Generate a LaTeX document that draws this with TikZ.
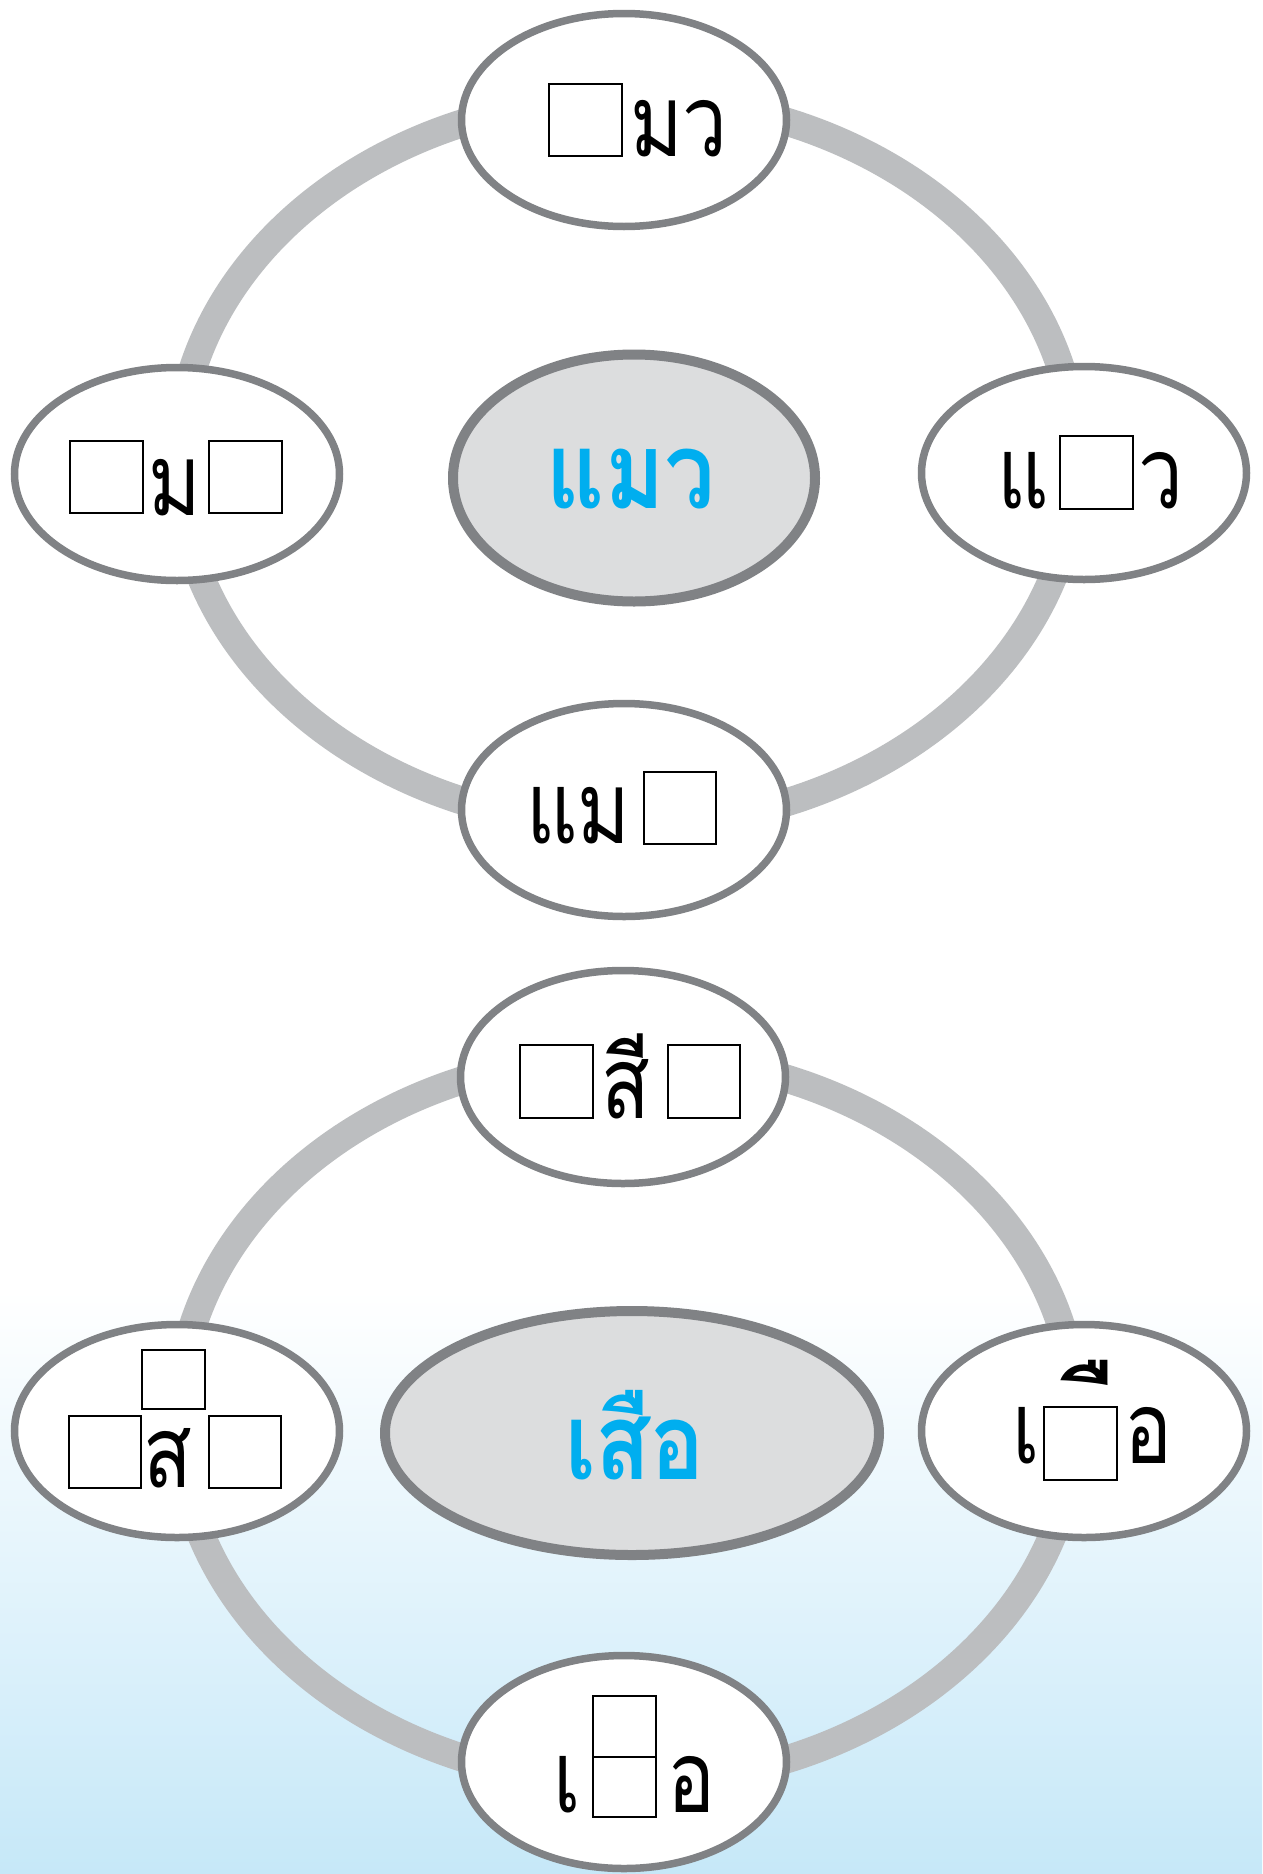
\documentclass[tikz,border=0pt]{standalone}
\usepackage{fontspec}
\newfontfamily\thai[Script=Thai, FakeStretch=0.8]{Loma}
\newfontfamily\thaimark[Script=Thai]{Loma}
\newfontfamily\thaibold[Script=Thai, FakeStretch=0.85]{Loma}
\usetikzlibrary{shapes.geometric}
\definecolor{nodegray}{HTML}{808285}
\definecolor{ringgray}{HTML}{BCBEC0}
\definecolor{centerfill}{HTML}{DCDDDE}
\definecolor{thaiblue}{HTML}{00AEEF}
\definecolor{skyblue}{HTML}{C6E8F8}
\begin{document}
\begin{tikzpicture}[x=1pt,y=-1pt,
  ring/.style={draw=ringgray, line width=28pt},
  outer/.style={ellipse, draw=nodegray, fill=white, line width=7.5pt, minimum width=325pt, minimum height=213pt, inner sep=0pt},
  hub/.style={ellipse, draw=nodegray, fill=centerfill, line width=10pt, inner sep=0pt},
  blank/.style={draw=black, line width=2.3pt},
  word/.style={font=\thai\fontsize{100}{100}\selectfont, text=black, inner sep=0pt, anchor=base west},
  markword/.style={font=\thaimark\fontsize{105}{105}\selectfont, text=black, inner sep=0pt, anchor=base east},
  hubword/.style={font=\thaibold\bfseries\fontsize{106}{106}\selectfont, text=thaiblue, inner sep=0pt, anchor=base},
]
\useasboundingbox (0,0) rectangle (1262,1874);
\fill[white] (0,0) rectangle (1262,1874);
\shade[top color=white, bottom color=skyblue] (0,1290) rectangle (1262,1874);

% ---------- top cluster ----------
\draw[ring] (627,462) ellipse [x radius=449pt, y radius=364pt];
\node[outer] (n1t) at (624,120) {};
\node[outer] (n1l) at (177,474) {};
\node[outer] (n1r) at (1084,473) {};
\node[outer] (n1b) at (624,810) {};
\node[hub, minimum width=362pt, minimum height=247pt] (h1) at (634,478) {};
\node[hubword] (w1) at (631,508) {แมว};

\draw[blank] (549,84) rectangle (622,156);
\node[word] (t1) at (630,156) {มว};

\draw[blank] (70,441) rectangle (143,513);
\node[word] (t2) at (148,515) {ม};
\draw[blank] (209,441) rectangle (282,513);

\node[word] (t3) at (997,508) {แ};
\draw[blank] (1060,436) rectangle (1133,509);
\node[word] (t4) at (1138,508) {ว};

\node[word] (t5) at (526,843) {แม};
\draw[blank] (644,772) rectangle (716,844);

% ---------- bottom cluster ----------
\draw[ring] (627,1419) ellipse [x radius=449pt, y radius=364pt];
\node[outer] (n2t) at (623,1077) {};
\node[outer] (n2l) at (177,1431) {};
\node[outer] (n2r) at (1084,1431) {};
\node[outer] (n2b) at (624,1762) {};
\node[hub, minimum width=494pt, minimum height=244pt] (h2) at (632,1433) {};
\node[hubword] (w2) at (635,1479) {เสือ};

\draw[blank] (520,1045) rectangle (593,1118);
\node[word] (t6) at (601,1118) {สี};
\draw[blank] (668,1045) rectangle (740,1118);

\draw[blank] (142,1350) rectangle (205,1409);
\draw[blank] (69,1416) rectangle (141,1488);
\node[word] (t7) at (143,1487) {ส};
\draw[blank] (209,1416) rectangle (281,1488);

\node[word] (t8) at (1012,1463) {เ};
\node[markword] (t9) at (1118,1448) {\makebox[40pt][r]{ื}};
\draw[blank] (1044,1407) rectangle (1117,1480);
\node[word] (t10) at (1124,1463) {อ};

\node[word] (t11) at (553,1812) {เ};
\draw[blank] (593,1696) rectangle (656,1757);
\draw[blank] (593,1757) rectangle (656,1817);
\node[word] (t12) at (667,1812) {อ};
\end{tikzpicture}
\end{document}
